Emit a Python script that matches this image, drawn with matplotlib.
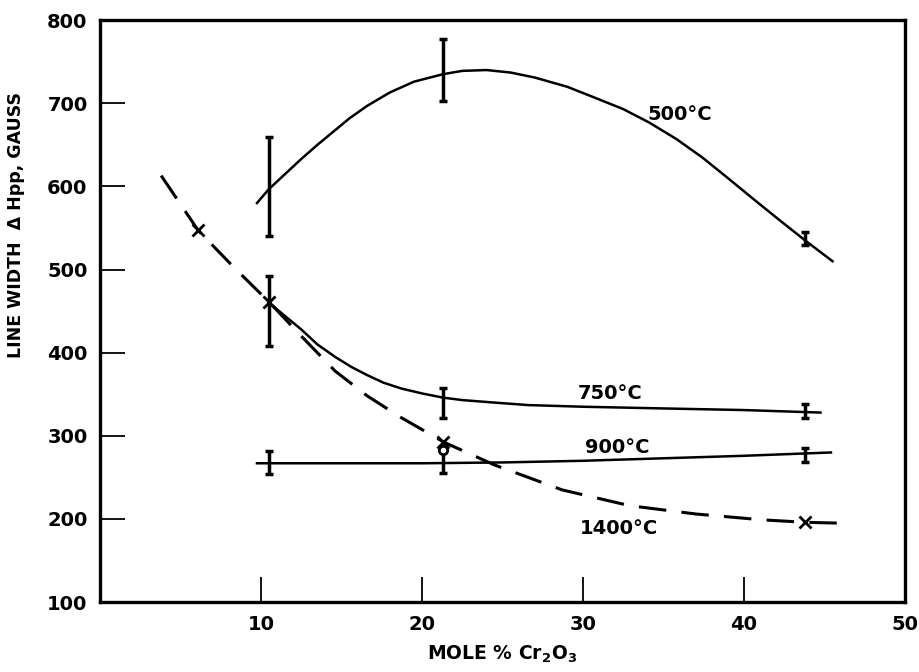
#Imports
import matplotlib
matplotlib.use('Agg')
import matplotlib.pyplot as plt
import numpy as np

#data (mole % Cr2O3 vs line width, gauss)
x_pts = [10.5, 21.3, 43.8]

y500 = [600, 740, 537]
e500 = [60, 37, 8]
y750 = [450, 340, 330]
e750 = [42, 18, 8]
y900 = [268, 268, 277]
e900 = [14, 13, 8]

x1400 = [6.1, 10.5, 21.3, 43.8]
y1400 = [547, 461, 292, 196]
circ_x = [21.3]
circ_y = [283]

#hand drawn curves, traced points
cx500 = [9.75, 10.5, 11.5, 12.5, 13.5, 14.5, 15.5, 16.6, 18.0, 19.5, 21.3, 22.5, 24.0, 25.5,
         27.0, 29.0, 30.7, 32.5, 34.1, 35.8, 37.4, 39.0, 40.7, 42.3, 43.8, 45.5]
cy500 = [580, 597, 615, 633, 650, 666, 682, 697, 713, 726, 735, 739, 740, 737,
         731, 720, 707, 693, 677, 657, 635, 610, 583, 558, 535, 510]
cx750 = [10.5, 11.5, 12.5, 13.5, 14.6, 15.6, 16.6, 17.6, 18.7, 20.0, 21.3, 22.5, 24.5, 26.6,
         30.0, 34.9, 40.0, 44.75]
cy750 = [460, 444, 428, 410, 395, 383, 373, 364, 357, 351, 346, 343, 340, 337,
         335, 333, 331, 328]
cx900 = [9.75, 15.0, 20.0, 25.0, 30.0, 35.0, 40.0, 45.4]
cy900 = [267, 267, 267, 268, 270, 273, 276, 280]
cx1400 = [3.8, 6.1, 8.3, 10.5, 12.5, 14.6, 16.6, 18.7, 21.4, 24.5, 28.7, 32.9, 37.0, 41.1, 43.8, 45.9]
cy1400 = [613, 547, 503, 461, 420, 378, 348, 322, 292, 265, 235, 216, 206, 199, 196, 195]

labels = ['500°C', '750°C', '900°C', '1400°C']
label_x = [34.0, 29.7, 30.1, 29.8]
label_y = [686, 351, 286, 189]

plt.rcParams['font.family'] = ['DejaVu Sans']
plt.rcParams['font.weight'] = 'bold'

fig = plt.figure(figsize=(9.2, 6.72), dpi=100)
ax = fig.add_axes([0.1087, 0.104, 0.875, 0.866])

lw = 1.8
ax.plot(cx500, cy500, color='black', lw=lw)
ax.plot(cx750, cy750, color='black', lw=lw)
ax.plot(cx900, cy900, color='black', lw=lw)
ax.plot(cx1400, cy1400, color='black', lw=2.2, dashes=(9, 5))

for ys, es in [(y500, e500), (y750, e750), (y900, e900)]:
    ax.errorbar(x_pts, ys, yerr=es, fmt='none', ecolor='black',
                elinewidth=2.5, capsize=3, capthick=2.5)

ax.plot(x1400, y1400, 'x', color='black', ms=9, mew=2)
ax.plot(circ_x, circ_y, 'o', color='black', mfc='white', ms=6, mew=2)

for t, lx, ly in zip(labels, label_x, label_y):
    ax.text(lx, ly, t, fontsize=14, fontweight='bold', va='center', ha='left')

ax.set_xlim(0, 50)
ax.set_ylim(100, 800)
ax.set_xticks([10, 20, 30, 40, 50])
ax.set_yticks([100, 200, 300, 400, 500, 600, 700, 800])
ax.tick_params(direction='in', length=18, width=1.3, labelsize=14, pad=9)
for lab in ax.get_xticklabels() + ax.get_yticklabels():
    lab.set_fontweight('bold')
for s in ax.spines.values():
    s.set_linewidth(2.4)

ax.set_xlabel('MOLE % Cr$_\\mathbf{2}$O$_\\mathbf{3}$', fontsize=13.5, fontweight='bold', labelpad=7)
fig.text(0.017, 0.665, 'LINE WIDTH  \u0394 Hpp, GAUSS', rotation=90, fontsize=12.5,
         fontweight='bold', va='center', ha='center')

plt.savefig('out.png', dpi=100)
plt.close()
